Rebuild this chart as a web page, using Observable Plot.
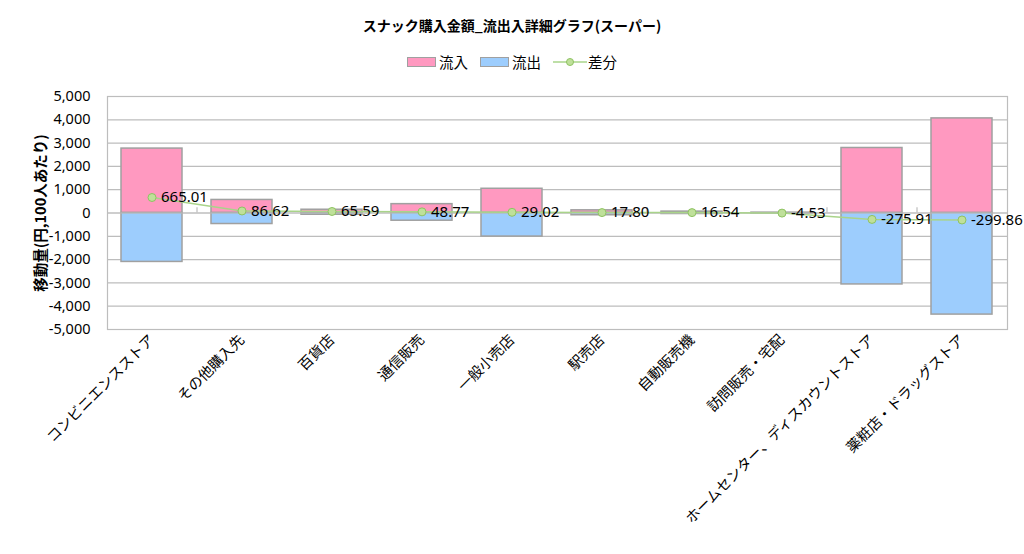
<!DOCTYPE html>
<html>
<head>
<meta charset="utf-8">
<script src="https://cdn.jsdelivr.net/npm/d3@7"></script>
<script src="https://cdn.jsdelivr.net/npm/@observablehq/plot@0.6"></script>
<style>
  body { margin: 0; background: #fff; font-family: "Noto Sans", "Noto Sans CJK JP", sans-serif; }
  #wrap { width: 1024px; height: 554px; position: relative; overflow: hidden; }
  #title { position: absolute; top: 14px; left: 0; width: 1024px; text-align: center; font-size: 14px; font-weight: bold; color: #000; line-height: 22px; font-family: "Noto Sans CJK JP", sans-serif; }
  #legend { position: absolute; top: 52px; left: 0; width: 1024px; display: flex; justify-content: center; align-items: center; font-size: 14.5px; color: #000; line-height: 20px; font-family: "Noto Sans CJK JP", sans-serif; }
  .sw { display: inline-block; width: 27px; height: 8px; border: 1.5px solid #a0a0a0; margin-right: 3px; }
  .item { display: flex; align-items: center; margin: 0 6px; }
  #chart { position: absolute; top: 80px; left: 0; }
  #chart svg [aria-label="y-axis label"] text { font-weight: bold; font-family: "Noto Sans CJK JP", sans-serif; }
  #chart svg [aria-label="x-axis tick label"] text { font-family: "Noto Sans CJK JP", sans-serif; }
</style>
</head>
<body>
<div id="wrap">
  <div id="title">スナック購入金額_流出入詳細グラフ(スーパー)</div>
  <div id="legend"></div>
  <div id="chart"></div>
</div>
<script>
const categories = ["コンビニエンスストア", "その他購入先", "百貨店", "通信販売", "一般小売店", "駅売店", "自動販売機", "訪問販売・宅配", "ホームセンター、ディスカウントストア", "薬粧店・ドラッグストア"];
const inflow  = [2765, 560, 140, 380, 1040, 115, 60, 10, 2790, 4060];
const outflow = [-2100, -473, -75, -331, -1011, -97, -43, -15, -3066, -4360];
const diff    = [665.01, 86.62, 65.59, 48.77, 29.02, 17.80, 16.54, -4.53, -275.91, -299.86];
const yTicks  = [5000, 4000, 3000, 2000, 1000, 0, -1000, -2000, -3000, -4000, -5000];
const seriesNames = ["流入", "流出", "差分"];
const colors = { in: "#ff99c0", out: "#9dcdfd", line: "#a9d48a", dotFill: "#bfe09a", dotStroke: "#8fc363", barStroke: "#a0a0a0", grid: "#bdbdbd" };

const rows = categories.map((c, i) => ({ cat: c, inflow: inflow[i], outflow: outflow[i], diff: diff[i] }));

// legend
const legend = document.getElementById("legend");
legend.innerHTML = `
  <span class="item"><span class="sw" style="background:${colors.in}"></span>${seriesNames[0]}</span>
  <span class="item"><span class="sw" style="background:${colors.out}"></span>${seriesNames[1]}</span>
  <span class="item"><svg width="34" height="10" style="margin-right:1px"><line x1="0" y1="5" x2="34" y2="5" stroke="${colors.line}" stroke-width="1.5"/><circle cx="17" cy="5" r="3.5" fill="${colors.dotFill}" stroke="${colors.dotStroke}"/></svg>${seriesNames[2]}</span>`;

const chart = Plot.plot({
  width: 1024,
  height: 474,
  marginTop: 16,
  marginBottom: 225,
  marginLeft: 107,
  marginRight: 17,
  style: { fontFamily: "'Noto Sans', 'Noto Sans CJK JP', sans-serif", fontSize: "14.5px", color: "#000", background: "#fff" },
  x: { type: "band", domain: categories, paddingInner: 0.32, paddingOuter: 0.16, label: null },
  y: { domain: [-5000, 5000], label: null },
  marks: [
    Plot.gridY(yTicks, { stroke: colors.grid, strokeOpacity: 1, strokeWidth: 1.2 }),
    Plot.frame({ stroke: colors.grid, strokeWidth: 1.2 }),
    Plot.ruleX(categories.slice(0, -1), { x: d => d, y1: 0, y2: 220, dx: 45, stroke: colors.grid, strokeWidth: 1.2 }),
    Plot.barY(rows, { x: "cat", y1: 0, y2: "inflow", fill: colors.in, stroke: colors.barStroke, strokeWidth: 1.5 }),
    Plot.barY(rows, { x: "cat", y1: 0, y2: "outflow", fill: colors.out, stroke: colors.barStroke, strokeWidth: 1.5 }),
    Plot.ruleY([0], { stroke: colors.grid, strokeWidth: 1.2 }),
    Plot.axisY(yTicks, { tickSize: 0, tickPadding: 17, tickFormat: d => d.toLocaleString("en-US"), fontSize: 14.5, label: "移動量(円,100人あたり)", labelAnchor: "center", labelArrow: "none", labelOffset: 72 }),
    Plot.axisX({ tickSize: 0, tickPadding: 8, tickRotate: -45, fontSize: 14.5, label: null }),
    Plot.line(rows, { x: "cat", y: "diff", stroke: colors.line, strokeWidth: 1.5 }),
    Plot.dot(rows, { x: "cat", y: "diff", r: 4, fill: colors.dotFill, stroke: colors.dotStroke, strokeWidth: 1 }),
    Plot.text(rows, { x: "cat", y: "diff", text: d => d.diff.toFixed(2), textAnchor: "start", dx: 9, fontSize: 15, fill: "#000" })
  ]
});
document.getElementById("chart").appendChild(chart);
</script>
</body>
</html>
